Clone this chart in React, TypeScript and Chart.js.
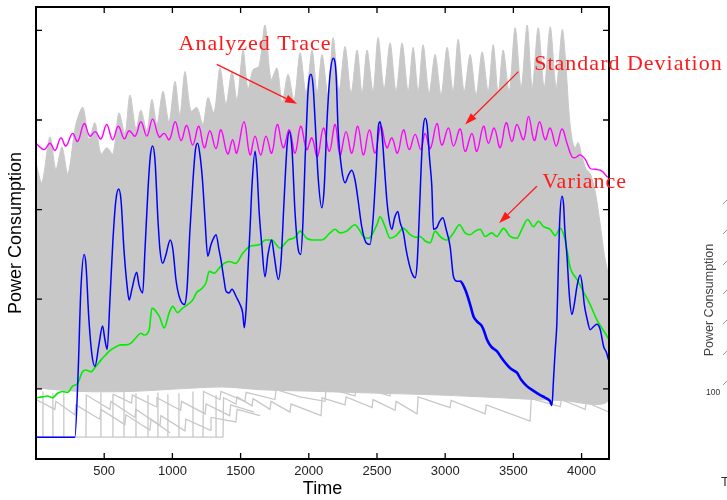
import React, { useEffect, useRef } from 'react';
import { Chart, registerables } from 'chart.js';

Chart.register(...registerables);

// ---- axes ----
const X_MIN = 0;
const X_MAX = 4201;
const Y_MIN = 0.2165;
const Y_MAX = 5.261;
const X_TICKS = [500, 1000, 1500, 2000, 2500, 3000, 3500, 4000];
const Y_TICKS = [1, 2, 3, 4, 5];

// ---- analyzed trace (blue) [time, power] ----
const analyzedTrace: [number, number][] = [
  [0,0.46],[285,0.46],[307,1.10],[329,2.11],[353,2.50],[366,2.39],[388,1.77],[410,1.38],[432,1.25],[461,1.49],[488,1.70],[505,1.55],[522,1.44],[542,1.99],[564,2.66],[586,3.11],[606,3.23],[623,3.11],[645,2.55],[667,2.16],[683,1.99],[703,2.11],[738,2.30],[755,2.16],[782,2.07],[799,2.55],[821,3.22],[839,3.61],[855,3.71],[872,3.56],[894,2.89],[909,2.55],[929,2.40],[953,2.50],[984,2.66],[1004,2.55],[1026,2.22],[1050,2.03],[1087,1.94],[1107,2.11],[1129,2.78],[1151,3.33],[1169,3.67],[1185,3.74],[1202,3.61],[1222,3.30],[1239,2.89],[1259,2.48],[1283,2.61],[1305,2.69],[1320,2.72],[1342,2.55],[1356,2.44],[1378,2.22],[1393,2.09],[1415,2.07],[1437,2.11],[1467,2.03],[1496,1.94],[1515,1.85],[1527,1.68],[1540,1.88],[1554,2.33],[1569,2.78],[1584,3.28],[1606,3.65],[1620,3.45],[1635,3.00],[1655,2.61],[1679,2.25],[1701,2.50],[1728,2.66],[1745,2.50],[1777,2.22],[1797,2.44],[1819,3.11],[1841,3.72],[1857,3.87],[1877,3.67],[1899,2.97],[1923,2.55],[1941,2.50],[1958,2.89],[1973,3.56],[1991,4.23],[2002,4.45],[2016,4.51],[2031,4.39],[2046,4.00],[2070,3.33],[2095,3.02],[2112,3.22],[2134,4.00],[2156,4.51],[2180,4.69],[2200,4.51],[2215,3.89],[2242,3.44],[2266,3.30],[2292,3.39],[2315,3.44],[2339,3.33],[2361,3.11],[2388,2.81],[2420,2.63],[2449,2.61],[2471,2.89],[2493,3.44],[2508,3.89],[2523,3.98],[2537,3.84],[2556,3.44],[2572,3.11],[2589,2.89],[2609,2.78],[2629,2.91],[2653,2.98],[2669,2.86],[2694,2.74],[2714,2.55],[2743,2.35],[2765,2.26],[2780,2.24],[2794,2.39],[2809,2.89],[2823,3.44],[2838,3.89],[2853,4.02],[2867,3.95],[2886,3.56],[2902,3.26],[2914,2.78],[2939,2.80],[2956,2.86],[2983,2.91],[3007,2.78],[3036,2.59],[3061,2.25],[3088,2.20],[3110,2.20],[3146,2.11],[3183,1.94],[3207,1.81],[3235,1.75],[3269,1.70],[3286,1.64],[3306,1.55],[3337,1.47],[3379,1.42],[3411,1.35],[3452,1.27],[3484,1.22],[3526,1.18],[3557,1.10],[3599,1.03],[3645,0.98],[3697,0.93],[3733,0.90],[3770,0.86],[3783,0.82],[3794,1.10],[3807,1.44],[3819,1.74],[3829,2.33],[3840,2.89],[3856,3.15],[3868,3.06],[3877,2.78],[3893,2.48],[3910,2.05],[3929,1.83],[3946,1.94],[3968,2.16],[3990,2.27],[4005,2.16],[4020,1.94],[4042,1.77],[4063,1.66],[4085,1.69],[4112,1.72],[4137,1.66],[4162,1.47],[4181,1.41],[4198,1.32]
];

// ---- standard deviation (magenta) ----
const stdDeviation: [number, number][] = [
  [0,3.74],[60,3.67],[102,3.74],[140,3.66],[182,3.80],[219,3.71],[268,3.85],[305,3.76],[353,3.96],[395,3.82],[434,3.87],[476,3.79],[518,3.95],[562,3.78],[603,3.93],[647,3.79],[683,3.88],[727,3.82],[769,3.98],[813,3.82],[855,4.01],[903,3.81],[940,3.85],[977,3.78],[1021,3.98],[1063,3.77],[1105,3.94],[1149,3.72],[1193,3.93],[1234,3.69],[1275,3.88],[1319,3.68],[1356,3.89],[1405,3.62],[1442,3.78],[1471,3.63],[1525,3.98],[1569,3.61],[1606,3.82],[1647,3.61],[1686,3.82],[1728,3.63],[1769,3.95],[1813,3.69],[1857,3.89],[1899,3.63],[1941,3.93],[1985,3.67],[2022,3.80],[2063,3.59],[2107,3.91],[2151,3.65],[2193,3.95],[2229,3.61],[2273,3.87],[2315,3.63],[2359,3.93],[2400,3.61],[2444,3.89],[2486,3.63],[2528,3.93],[2572,3.69],[2609,3.80],[2650,3.63],[2694,3.89],[2736,3.67],[2780,3.84],[2821,3.67],[2853,3.85],[2890,3.68],[2939,3.96],[2975,3.72],[3024,3.91],[3061,3.71],[3110,3.90],[3146,3.65],[3196,3.85],[3232,3.65],[3281,3.93],[3317,3.74],[3359,3.91],[3403,3.69],[3447,3.97],[3489,3.76],[3526,3.95],[3574,3.78],[3611,4.04],[3653,3.77],[3692,3.98],[3733,3.78],[3770,3.91],[3814,3.71],[3856,3.90],[3893,3.74],[3929,3.59],[3953,3.58],[3990,3.61],[4027,3.56],[4063,3.46],[4100,3.45],[4149,3.43],[4186,3.37],[4201,3.36]
];

// ---- variance (green) ----
const variance: [number, number][] = [
  [0,0.90],[48,0.91],[85,0.92],[121,0.90],[158,0.95],[195,0.97],[231,0.96],[268,1.03],[305,1.06],[341,1.19],[366,1.21],[402,1.19],[439,1.25],[476,1.32],[512,1.38],[537,1.42],[586,1.47],[622,1.49],[659,1.49],[696,1.51],[733,1.57],[769,1.62],[793,1.60],[830,1.66],[850,1.90],[903,1.81],[940,1.68],[977,1.85],[1002,1.92],[1038,1.85],[1075,1.90],[1112,1.94],[1149,1.99],[1180,2.08],[1209,2.11],[1246,2.18],[1270,2.31],[1307,2.29],[1344,2.35],[1380,2.40],[1417,2.42],[1466,2.40],[1510,2.50],[1569,2.59],[1642,2.61],[1679,2.66],[1728,2.66],[1789,2.57],[1848,2.66],[1899,2.69],[1936,2.76],[1985,2.68],[2031,2.66],[2095,2.66],[2156,2.74],[2193,2.78],[2229,2.74],[2278,2.76],[2339,2.83],[2364,2.79],[2400,2.70],[2437,2.68],[2499,2.83],[2523,2.92],[2559,2.81],[2596,2.68],[2640,2.71],[2694,2.79],[2743,2.72],[2787,2.69],[2816,2.70],[2853,2.65],[2890,2.63],[2926,2.76],[2963,2.70],[3012,2.66],[3061,2.74],[3105,2.83],[3146,2.74],[3183,2.72],[3220,2.76],[3256,2.78],[3293,2.70],[3342,2.74],[3379,2.70],[3428,2.79],[3476,2.70],[3526,2.68],[3562,2.78],[3604,2.89],[3648,2.81],[3684,2.87],[3721,2.81],[3770,2.78],[3807,2.71],[3843,2.79],[3873,2.70],[3893,2.55],[3917,2.35],[3966,2.22],[4015,2.08],[4063,1.94],[4112,1.77],[4161,1.65],[4201,1.55]
];

// ---- gray trace population: upper envelope (left->right) and lower edge (right->left) ----
const traceEnvelopeTop: [number, number][] = [
  [0,3.52],[43,3.30],[102,3.81],[146,3.45],[190,3.70],[234,3.40],[292,3.95],[344,4.14],[388,3.78],[432,3.97],[476,3.62],[520,3.69],[564,3.62],[608,4.08],[652,3.85],[689,4.28],[733,3.90],[769,4.11],[813,3.88],[850,4.23],[887,3.95],[931,4.32],[975,3.98],[1019,4.43],[1055,4.05],[1092,4.54],[1136,4.10],[1180,4.14],[1224,3.95],[1261,4.25],[1305,4.08],[1349,4.58],[1393,4.18],[1437,4.54],[1474,4.22],[1518,4.78],[1554,4.35],[1591,4.56],[1635,4.60],[1679,5.06],[1723,4.45],[1767,4.58],[1804,4.20],[1848,4.51],[1892,4.22],[1936,4.75],[1980,4.30],[2024,4.78],[2061,4.30],[2097,4.73],[2141,4.28],[2178,4.92],[2222,4.33],[2266,4.82],[2310,4.30],[2354,4.78],[2391,4.30],[2427,4.78],[2471,4.32],[2508,4.92],[2552,4.35],[2596,4.86],[2640,4.32],[2684,4.86],[2728,4.32],[2765,4.81],[2802,4.32],[2838,4.84],[2882,4.30],[2926,4.73],[2970,4.28],[3014,4.81],[3058,4.32],[3095,4.90],[3139,4.32],[3183,4.73],[3227,4.28],[3271,4.76],[3315,4.32],[3352,4.84],[3389,4.30],[3425,4.78],[3469,4.32],[3513,5.03],[3557,4.36],[3601,5.06],[3638,4.36],[3682,5.03],[3726,4.36],[3770,5.04],[3814,4.36],[3858,5.01],[3887,4.56],[3909,4.06],[3931,3.78],[3953,3.69],[3975,3.75],[4005,3.58],[4034,3.45],[4064,3.40],[4100,3.20],[4137,2.83],[4166,2.50],[4201,2.20]
];
const traceEnvelopeBottom: [number, number][] = [
  [4201,0.88],[3843,0.87],[3403,0.90],[2963,0.93],[2523,0.95],[2083,0.97],[1642,0.99],[1370,1.02],[1055,1.00],[689,0.97],[322,0.97],[0,1.01]
];

// ---- individual low-lying gray traces ----
const lowTraceA: [number, number][] = [
  [1371,0.46],[1375,0.90],[1466,0.83],[1474,0.91],[1584,0.81],[1591,0.89],[1716,0.77],[1723,0.86],[1862,0.74],[1870,0.83],[2090,0.70],[2097,0.90],[2266,0.82],[2273,0.91],[2464,0.79],[2471,0.88],[2633,0.76],[2640,0.86],[2794,0.72],[2802,0.91],[3036,0.79],[3043,0.87],[3293,0.72],[3301,0.82],[3623,0.64],[3631,0.89],[3843,0.80],[3851,0.88],[4027,0.77],[4034,0.85],[4201,0.74]
];
const lowTraceB: [number, number][] = [
  [1224,0.46],[1228,0.97],[1349,0.88],[1356,0.97],[1532,0.86],[1540,0.96],[1752,0.88],[1760,0.99],[1936,0.91],[2119,0.86],[2127,1.01],[2339,0.92],[2347,1.03],[2596,0.92],[2603,1.05],[2890,0.94],[2897,1.06],[3183,0.92],[3190,1.05],[3476,0.90],[3484,1.03],[3733,0.90],[3741,1.01],[3953,0.88],[3961,0.99],[4201,0.87]
];
const lowTraceC: [number, number][] = [
  [366,0.46],[369,0.93],[542,0.77],[549,0.86],[725,0.68],[733,0.77],[909,0.59],[916,0.70],[1092,0.53],[1099,0.66],[1276,0.54],[1283,0.68],[1466,0.63],[1474,0.77],[1642,0.70]
];
const lowTraceD: [number, number][] = [
  [0,0.88],[138,0.77],[146,0.86],[285,0.71],[292,0.82],[468,0.66],[476,0.77],[652,0.60],[659,0.71],[835,0.54],[843,0.66],[982,0.51]
];
const lowTraceE: [number, number][] = [
  [564,0.94],[700,0.84],[706,0.93],[880,0.80],[887,0.90],[1060,0.76],[1067,0.86],[1240,0.72],[1247,0.83],[1420,0.70],[1427,0.82],[1600,0.74]
];

// ---- trace start-up (idle level then onset jump) ----
const idleLevel = 0.46;
const idleEnd = 1371;
const onsetTimes = [51, 124, 204, 476, 564, 645, 733, 821, 894, 967, 1048, 1151, 1320];
const onsetLevels = [0.97, 0.95, 0.98, 0.96, 0.94, 0.97, 0.95, 0.93, 0.96, 0.94, 0.95, 0.97, 0.93];

// ---- annotations ----
const annotationLabels = ['Analyzed Trace', 'Standard Deviation', 'Variance'];
const annotationAnchor: [number, number][] = [[1606, 4.85], [3653, 4.62], [3711, 3.30]];
const annotationAlign: CanvasTextAlign[] = ['center', 'left', 'left'];
const arrowFrom: [number, number][] = [[1325, 4.62], [3537, 4.54], [3672, 3.26]];
const arrowTo: [number, number][] = [[1914, 4.18], [3146, 3.95], [3396, 2.85]];

const GRAY = 'rgb(200,200,200)';
const toXY = (arr: [number, number][]) => arr.map(([x, y]) => ({ x, y }));

function buildIdle() {
  const pts: { x: number; y: number }[] = [{ x: 0, y: idleLevel }];
  onsetTimes.forEach((t, i) => {
    pts.push({ x: t, y: idleLevel }, { x: t, y: onsetLevels[i] }, { x: t, y: idleLevel });
  });
  pts.push({ x: idleEnd, y: idleLevel });
  return pts;
}

const framePlugin = {
  id: 'frameAndNotes',
  afterDatasetsDraw(chart: any) {
    const { ctx, chartArea, scales } = chart;
    const { left, right, top, bottom } = chartArea;
    ctx.save();
    ctx.strokeStyle = '#000';
    ctx.lineWidth = 1.3;
    ctx.beginPath();
    for (const t of scales.x.ticks) {
      const px = scales.x.getPixelForValue(t.value);
      ctx.moveTo(px, bottom);
      ctx.lineTo(px, bottom - 6);
      ctx.moveTo(px, top);
      ctx.lineTo(px, top + 6);
    }
    for (const t of scales.y.ticks) {
      const py = scales.y.getPixelForValue(t.value);
      ctx.moveTo(left, py);
      ctx.lineTo(left + 6, py);
      ctx.moveTo(right, py);
      ctx.lineTo(right - 6, py);
    }
    ctx.stroke();
    ctx.lineWidth = 2;
    ctx.strokeRect(left, top, right - left, bottom - top);
    ctx.restore();
  },
  afterDraw(chart: any) {
    const { ctx, scales } = chart;
    const X = (v: number) => scales.x.getPixelForValue(v);
    const Y = (v: number) => scales.y.getPixelForValue(v);
    ctx.save();
    ctx.strokeStyle = '#ff1a1a';
    ctx.fillStyle = '#ff1a1a';
    ctx.lineWidth = 1.3;
    arrowFrom.forEach((f, i) => {
      const x0 = X(f[0]), y0 = Y(f[1]);
      const x1 = X(arrowTo[i][0]), y1 = Y(arrowTo[i][1]);
      const ang = Math.atan2(y1 - y0, x1 - x0);
      const hl = 12, hw = 4;
      const bx = x1 - hl * Math.cos(ang), by = y1 - hl * Math.sin(ang);
      ctx.beginPath();
      ctx.moveTo(x0, y0);
      ctx.lineTo(bx, by);
      ctx.stroke();
      ctx.beginPath();
      ctx.moveTo(x1, y1);
      ctx.lineTo(bx + hw * Math.sin(ang), by - hw * Math.cos(ang));
      ctx.lineTo(bx - hw * Math.sin(ang), by + hw * Math.cos(ang));
      ctx.closePath();
      ctx.fill();
    });
    ctx.font = '22px "Liberation Serif", "Times New Roman", serif';
    try { (ctx as any).letterSpacing = '1px'; } catch (e) {}
    ctx.textBaseline = 'middle';
    annotationLabels.forEach((txt, i) => {
      ctx.textAlign = annotationAlign[i];
      ctx.fillText(txt, X(annotationAnchor[i][0]), Y(annotationAnchor[i][1]));
    });
    ctx.restore();
  },
};

const grayLine = (arr: { x: number; y: number }[]) => ({
  data: arr, borderColor: GRAY, borderWidth: 1.3, pointRadius: 0, fill: false, tension: 0, order: 8,
});

export default function App() {
  const ref = useRef<HTMLCanvasElement>(null);
  useEffect(() => {
    if (!ref.current) return;
    const chart = new Chart(ref.current, {
      type: 'line',
      data: {
        datasets: [
          {
            data: toXY([...traceEnvelopeTop, ...traceEnvelopeBottom]),
            borderColor: GRAY,
            backgroundColor: GRAY,
            borderWidth: 1,
            pointRadius: 0,
            fill: 'shape',
            tension: 0.3,
            order: 10,
          } as any,
          grayLine(toXY(lowTraceA)),
          grayLine(toXY(lowTraceB)),
          grayLine(toXY(lowTraceC)),
          grayLine(toXY(lowTraceD)),
          grayLine(toXY(lowTraceE)),
          grayLine(buildIdle()),
          { data: toXY(variance), borderColor: '#00ee00', borderWidth: 1.6, pointRadius: 0, fill: false, cubicInterpolationMode: 'monotone', order: 3 },
          { data: toXY(stdDeviation), borderColor: '#ff00ff', borderWidth: 1.4, pointRadius: 0, fill: false, tension: 0.4, order: 2 },
          {
            data: toXY(analyzedTrace),
            borderColor: '#0000ff',
            borderWidth: 1.5,
            pointRadius: 0,
            fill: false,
            cubicInterpolationMode: 'monotone',
            order: 1,
            segment: {
              borderWidth: (c: any) => (c.p0.parsed.x >= 3100 && c.p1.parsed.x <= 3785) ? 2.6 : 1.5,
            },
          } as any,
        ],
      },
      options: {
        animation: false,
        responsive: false,
        devicePixelRatio: 1,
        layout: { padding: { top: 7, right: 118, left: 0, bottom: 0 } },
        plugins: { legend: { display: false }, tooltip: { enabled: false } },
        events: [],
        scales: {
          x: {
            type: 'linear',
            min: X_MIN,
            max: X_MAX,
            afterBuildTicks: (s: any) => { s.ticks = X_TICKS.map((value) => ({ value })); },
            afterFit: (s: any) => { s.height = 41; },
            grid: { display: false, drawTicks: false },
            border: { display: false },
            ticks: {
              font: { family: '"Liberation Sans", Arial, sans-serif', size: 13 },
              color: '#222',
              padding: 5,
              maxRotation: 0,
              autoSkip: false,
              callback: (v: any) => String(v),
            },
            title: {
              display: true,
              text: 'Time',
              font: { family: '"Liberation Sans", Arial, sans-serif', size: 18 },
              color: '#000',
              padding: 0,
            },
          },
          y: {
            type: 'linear',
            min: Y_MIN,
            max: Y_MAX,
            afterBuildTicks: (s: any) => { s.ticks = Y_TICKS.map((value) => ({ value })); },
            afterFit: (s: any) => { s.width = 36; },
            grid: { display: false, drawTicks: false },
            border: { display: false },
            ticks: { display: false },
            title: {
              display: true,
              text: 'Power Consumption',
              font: { family: '"Liberation Sans", Arial, sans-serif', size: 18 },
              color: '#000',
              padding: { top: 5, bottom: 0 },
            },
          },
        },
      } as any,
      plugins: [framePlugin],
    });
    return () => chart.destroy();
  }, []);

  const sideTicks = [202, 232, 263, 292, 322, 353, 383];
  return (
    <div style={{ position: 'fixed', left: 0, top: 0, width: 727, height: 500, background: '#fff', overflow: 'hidden' }}>
      <canvas ref={ref} width={727} height={500} style={{ position: 'absolute', left: 0, top: 0, width: 727, height: 500 }} />
      <div style={{ position: 'absolute', left: 709, top: 300, transform: 'translate(-50%, -50%) rotate(-90deg)', font: '12.5px "Liberation Sans", Arial, sans-serif', color: '#444', whiteSpace: 'nowrap' }}>Power Consumption</div>
      <div style={{ position: 'absolute', left: 706, top: 387, font: '8.5px "Liberation Sans", Arial, sans-serif', color: '#333', whiteSpace: 'nowrap' }}>100</div>
      <div style={{ position: 'absolute', left: 721, top: 474, font: '13px "Liberation Sans", Arial, sans-serif', color: '#333', whiteSpace: 'nowrap' }}>T</div>
      <svg width={10} height={500} style={{ position: 'absolute', left: 720, top: 0 }}>
        {sideTicks.map((y) => (
          <line key={y} x1={3} y1={y + 2} x2={7} y2={y - 2} stroke="#999" strokeWidth={1} />
        ))}
      </svg>
    </div>
  );
}
